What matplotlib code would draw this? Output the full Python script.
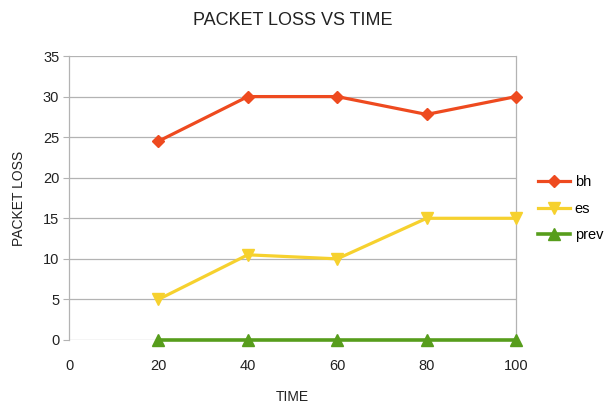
import matplotlib
matplotlib.use("Agg")
import matplotlib.pyplot as plt

plt.rcParams['font.family'] = ['Liberation Sans', 'DejaVu Sans']

time = [20, 40, 60, 80, 100]
bh = [24.5, 30, 30, 27.8, 30]
es = [5, 10.5, 10, 15, 15]
prev = [0, 0, 0, 0, 0]
x_ticks = [0, 20, 40, 60, 80, 100]
y_ticks = [0, 5, 10, 15, 20, 25, 30, 35]

fig = plt.figure(figsize=(6.06, 4.05), dpi=100)
ax = fig.add_axes([0.1139, 0.1605, 0.7376, 0.7012])

grid_c = '#b3b3b3'
ax.plot(time, bh, color='#ee4a1f', lw=2.3, marker='D', ms=6.5, label='bh', zorder=4, clip_on=False)
ax.plot(time, es, color='#f6d12e', lw=2.3, marker='v', ms=8, label='es', zorder=3, clip_on=False)
ax.plot(time, prev, color='#579d1c', lw=2.6, marker='^', ms=8, label='prev', zorder=3, clip_on=False)

ax.set_xlim(0, 100)
ax.set_ylim(0, 35)
ax.set_xticks(x_ticks)
ax.set_yticks(y_ticks)
ax.yaxis.grid(True, color=grid_c, lw=0.9)
ax.set_axisbelow(True)
for s in ['top', 'bottom']:
    ax.spines[s].set_visible(False)
for s in ['left', 'right']:
    ax.spines[s].set_color(grid_c)
    ax.spines[s].set_linewidth(0.9)
ax.tick_params(axis='y', length=4, color=grid_c, pad=3, labelsize=10.5, labelcolor='#222222')
ax.tick_params(axis='x', length=0, pad=14, labelsize=10.5, labelcolor='#222222')

ax.set_title('PACKET LOSS VS TIME', fontsize=13, color='#222222', pad=22)
ax.set_xlabel('TIME', fontsize=10, color='#222222', labelpad=12)
ax.set_ylabel('PACKET LOSS', fontsize=10, color='#222222', labelpad=12)

ax.legend(loc='center left', bbox_to_anchor=(1.03, 0.462), frameon=False,
          fontsize=10.5, handlelength=2.2, handletextpad=0.3, labelspacing=0.85,
          borderaxespad=0.2)

fig.savefig('out.png', dpi=100, facecolor='white')
